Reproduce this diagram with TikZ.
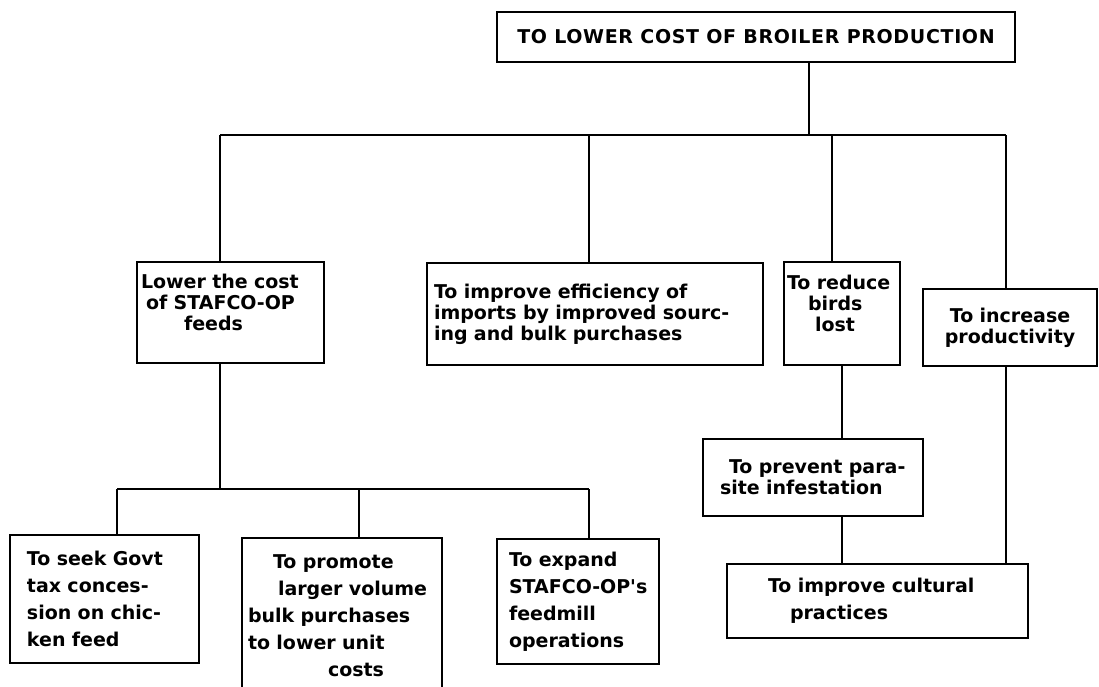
\documentclass[tikz,border=0pt]{standalone}
\usepackage{fontspec}
\setmainfont{DejaVu Sans}

\begin{document}
\begin{tikzpicture}[x=1pt, y=-1pt,
    goal/.style={draw, line width=2.8pt, align=left, inner ysep=0pt,
      font=\bfseries\fontsize{19}{21}\selectfont},
    goal low/.style={goal, font=\bfseries\fontsize{19}{27}\selectfont},
    link/.style={line width=2.8pt}]
\clip (0,0) rectangle (1099,686);

   \node[goal, align=center, minimum width=518pt, minimum height=50pt] (top) at (756,37)
     {\addfontfeature{LetterSpace=3.5}TO LOWER COST OF BROILER PRODUCTION};

    % second level
    \node[goal, minimum width=187pt, minimum height=101pt, text width=179pt, inner xsep=4pt] (stafco) at (230.5,312.5)
      {Lower the cost\\\hspace*{5pt}of STAFCO-OP\\\hspace*{43pt}feeds\\\mbox{}};
    \node[goal, minimum width=336pt, minimum height=102pt, text width=322pt, inner xsep=7pt] (imports) at (595,314)
      {To improve efficiency of\\imports by improved sourc-\\ing and bulk purchases};
    \node[goal, minimum width=116pt, minimum height=103pt, text width=110pt, inner xsep=3pt] (birds) at (842,313.5)
      {To reduce\\\hspace*{21pt}birds\\\hspace*{28pt}lost\\\mbox{}};
    \node[goal, align=center, minimum width=174pt, minimum height=77pt, text width=168pt, inner xsep=3pt] (increase) at (1010,327.5)
      {To increase\\productivity};

    % under the birds
    \node[goal, minimum width=220pt, minimum height=77pt, text width=196pt, inner xsep=12pt] (parasite) at (813,477.5)
      {\hspace*{14pt}\mbox{To prevent para-}\\\hspace*{5pt}site infestation};
    \node[goal low, minimum width=301pt, minimum height=74pt, text width=245pt, inner xsep=28pt] (cultural) at (877.5,601)
      {\hspace*{13pt}To improve cultural\\\hspace*{35pt}practices};

    % under the feeds
    \node[goal low, minimum width=189pt, minimum height=128pt, text width=155pt, inner xsep=17pt] (seek) at (104.5,599)
      {To seek Govt\\tax conces-\\sion on chic-\\ken feed};
    \node[goal low, minimum width=200pt, minimum height=156pt, text width=188pt, inner xsep=6pt] (promote) at (342,616)
      {\hspace*{25pt}To promote\\\hspace*{30pt}larger volume\\bulk purchases\\to lower unit\\\hspace*{80pt}costs};
    \node[goal low, minimum width=162pt, minimum height=125pt, text width=148pt, inner xsep=7pt] (expand) at (578,601.5)
      {\hspace*{5pt}To expand\\\hspace*{5pt}STAFCO-OP\textquotesingle s\\\hspace*{5pt}feedmill\\\hspace*{5pt}operations};

    % junctions
    \coordinate (hub) at (809,135);
    \coordinate (b1) at (220,135);
    \coordinate (b2) at (589,135);
    \coordinate (b3) at (832,135);
    \coordinate (b4) at (1006,135);
    \coordinate (f0) at (220,489);
    \coordinate (f1) at (117,489);
    \coordinate (f2) at (359,489);
    \coordinate (f3) at (589,489);

    \draw[link] (top.south -| hub) -- (hub);
    \draw[link] (b1) -- (b4);
    \draw[link] (b1) -- (b1 |- stafco.north);
    \draw[link] (b2) -- (b2 |- imports.north);
    \draw[link] (b3) -- (b3 |- birds.north);
    \draw[link] (b4) -- (b4 |- increase.north);

    \draw[link] (f0 |- stafco.south) -- (f0);
    \draw[link] (f1) -- (f3);
    \draw[link] (f1) -- (f1 |- seek.north);
    \draw[link] (f2) -- (f2 |- promote.north);
    \draw[link] (f3) -- (f3 |- expand.north);

    \draw[link] (birds.south) -- (parasite.north -| birds.south);
    \draw[link] (parasite.south -| birds.south) -- (cultural.north -| birds.south);
    \draw[link] (increase.south -| b4) -- (cultural.north -| b4);

\end{tikzpicture}
\end{document}
